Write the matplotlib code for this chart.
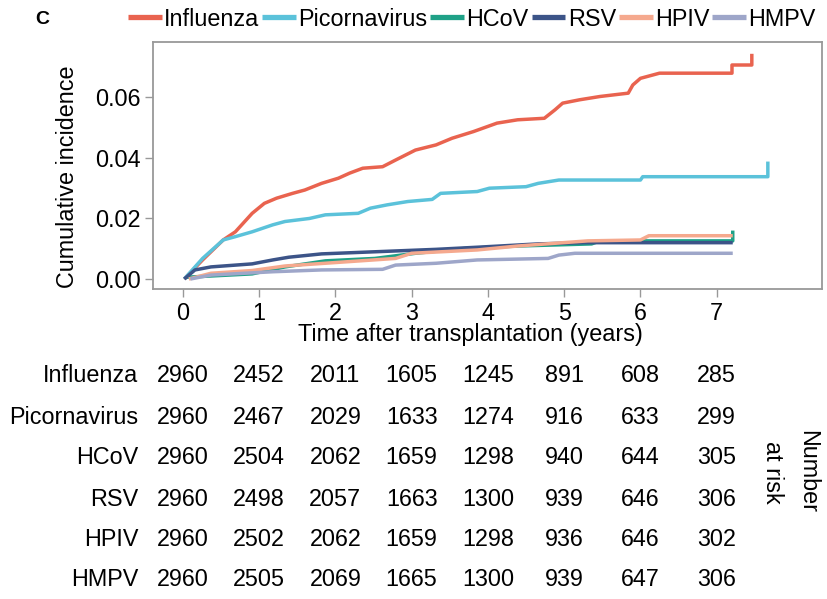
import matplotlib
matplotlib.use("Agg")
import matplotlib.pyplot as plt
from matplotlib import transforms

plt.rcParams['font.family'] = ['Liberation Sans', 'DejaVu Sans']

names = ["Influenza", "Picornavirus", "HCoV", "RSV", "HPIV", "HMPV"]
colors = ["#e9634f", "#5bc2da", "#1fa187", "#3c5488", "#f5a98e", "#9ea6c9"]

# cumulative incidence curves (years, incidence)
flu_t = [0.02, 0.26, 0.53, 0.69, 0.91, 1.07, 1.23, 1.44, 1.60, 1.82, 2.04, 2.19, 2.36, 2.62,
         2.79, 3.05, 3.32, 3.53, 3.81, 4.12, 4.39, 4.74, 4.88, 4.98, 5.2, 5.47, 5.84, 5.9,
         6.0, 6.25, 7.2, 7.2, 7.46, 7.46]
flu_y = [0.0, 0.0063, 0.0129, 0.0156, 0.0217, 0.025, 0.0267, 0.0283, 0.0294, 0.0316, 0.0333,
         0.035, 0.0366, 0.0371, 0.0393, 0.0426, 0.0443, 0.0465, 0.0487, 0.0515, 0.0526, 0.0531,
         0.0559, 0.0581, 0.0592, 0.0603, 0.0614, 0.0641, 0.0663, 0.068, 0.068, 0.0707, 0.0707, 0.0744]

pic_t = [0.02, 0.26, 0.53, 0.69, 0.91, 1.18, 1.34, 1.66, 1.87, 2.3, 2.46, 2.68, 2.95, 3.27,
         3.38, 3.86, 4.02, 4.5, 4.66, 4.93, 6.0, 6.03, 7.67, 7.67]
pic_y = [0.0, 0.0068, 0.0129, 0.014, 0.0156, 0.0179, 0.019, 0.020, 0.0212, 0.0217, 0.0234,
         0.0245, 0.0256, 0.0263, 0.0283, 0.0289, 0.030, 0.0305, 0.0316, 0.0327, 0.0327, 0.0338,
         0.0338, 0.0388]

hcov_t = [0.05, 0.37, 0.91, 1.34, 1.87, 2.52, 3.05, 3.7, 4.39, 5.36, 5.47, 7.21, 7.21]
hcov_y = [0.0006, 0.001, 0.0017, 0.004, 0.006, 0.0068, 0.0085, 0.0101, 0.0109, 0.0116, 0.0126,
          0.0126, 0.016]

rsv_t = [0.02, 0.16, 0.37, 0.91, 1.18, 1.39, 1.82, 2.52, 3.32, 3.86, 4.66, 5.25, 7.21]
rsv_y = [0.0, 0.003, 0.004, 0.005, 0.0063, 0.0072, 0.0083, 0.009, 0.0098, 0.0105, 0.0116,
         0.012, 0.012]

hpiv_t = [0.08, 0.37, 0.91, 1.34, 1.98, 2.79, 3.0, 3.86, 4.39, 5.31, 6.0, 6.11, 7.21]
hpiv_y = [0.0, 0.0019, 0.0028, 0.0043, 0.0054, 0.0068, 0.0085, 0.0096, 0.0109, 0.0126, 0.0129,
          0.0143, 0.0143]

hmpv_t = [0.1, 0.37, 1.18, 1.82, 2.62, 2.79, 3.32, 3.86, 4.79, 4.93, 5.14, 7.21]
hmpv_y = [0.0, 0.0013, 0.0024, 0.003, 0.0032, 0.0046, 0.0052, 0.0063, 0.0068, 0.0079, 0.0085,
          0.0085]

curves = [(flu_t, flu_y), (pic_t, pic_y), (hcov_t, hcov_y),
          (rsv_t, rsv_y), (hpiv_t, hpiv_y), (hmpv_t, hmpv_y)]

# number at risk table
risk_times = [0, 1, 2, 3, 4, 5, 6, 7]
at_risk = [
    [2960, 2452, 2011, 1605, 1245, 891, 608, 285],
    [2960, 2467, 2029, 1633, 1274, 916, 633, 299],
    [2960, 2504, 2062, 1659, 1298, 940, 644, 305],
    [2960, 2498, 2057, 1663, 1300, 939, 646, 306],
    [2960, 2502, 2062, 1659, 1298, 936, 646, 302],
    [2960, 2505, 2069, 1665, 1300, 939, 647, 306],
]

FS = 16.8
W, H = 828, 599
fig = plt.figure(figsize=(W / 100, H / 100), dpi=100)
ax = fig.add_axes([153 / W, 1 - 289 / H, (822 - 153) / W, (289 - 42) / H])

for (t, y), c, n in zip(curves, colors, names):
    ax.plot(t, y, color=c, lw=2.5, label=n, solid_capstyle='butt')

ax.set_xlim(-0.39, 8.38)
ax.set_ylim(-0.0033, 0.0783)
ax.set_xticks(risk_times)
ax.set_yticks([0.0, 0.02, 0.04, 0.06])
ax.set_yticklabels(["0.00", "0.02", "0.04", "0.06"])
for s in ax.spines.values():
    s.set_color("#999999")
    s.set_linewidth(1.3)
ax.tick_params(colors="#999999", labelcolor="black", labelsize=FS, length=6, width=1, pad=3)

fig.text(68 / W, 1 - 177 / H, "Cumulative incidence", rotation=90, ha="center", va="center",
         fontsize=FS)
fig.text(470 / W, 1 - 334 / H, "Time after transplantation (years)", ha="center", va="center",
         fontsize=FS)

fig.text(35 / W, 1 - 19 / H, "C", fontsize=14, fontweight="bold", ha="left", va="center")
leg = fig.legend(loc="center left", bbox_to_anchor=(128 / W, 1 - 19 / H), ncol=6,
                 frameon=False, fontsize=FS, handlelength=1.45, handletextpad=0.1,
                 columnspacing=0.12, borderaxespad=0, borderpad=0)
for h in leg.get_lines():
    h.set_linewidth(3.8)

tr = transforms.blended_transform_factory(ax.transData, fig.transFigure)
row_y = [376, 417, 458, 499, 539, 580]
for i, n in enumerate(names):
    yy = 1 - row_y[i] / H
    ax.text(-0.58, yy, n, transform=tr, ha="right", va="center", fontsize=FS, clip_on=False)
    for t, v in zip(risk_times, at_risk[i]):
        ax.text(t, yy, str(v), transform=tr, ha="center", va="center", fontsize=FS, clip_on=False)
ax.text(7.96, 1 - 472 / H, "Number\nat risk", transform=tr, rotation=-90, ha="center",
        va="center", fontsize=FS, clip_on=False, linespacing=1.7)

fig.savefig("out.png", dpi=100)
